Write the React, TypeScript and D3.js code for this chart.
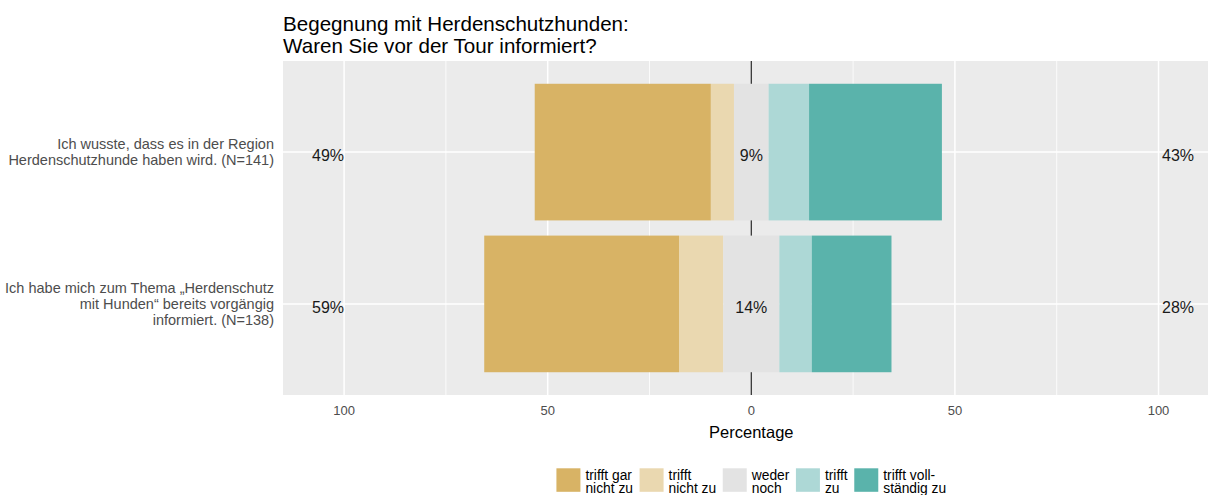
import React, { useEffect, useRef } from "react";
import * as d3 from "d3";

const titleLines = ["Begegnung mit Herdenschutzhunden:", "Waren Sie vor der Tour informiert?"];
const itemLines = [
  ["Ich wusste, dass es in der Region", "Herdenschutzhunde haben wird. (N=141)"],
  ["Ich habe mich zum Thema „Herdenschutz", "mit Hunden“ bereits vorgängig", "informiert. (N=138)"],
];
const levelLines = [
  ["trifft gar", "nicht zu"],
  ["trifft", "nicht zu"],
  ["weder", "noch"],
  ["trifft", "zu"],
  ["trifft voll-", "ständig zu"],
];
const levelColors = ["#D8B365", "#EAD8B0", "#E3E3E3", "#ADD8D6", "#5AB3AB"];
// percentages per level (gar nicht, nicht, weder, zu, vollständig)
const item1Values = [43.26, 5.67, 8.51, 9.93, 32.62];
const item2Values = [47.83, 10.87, 13.77, 7.97, 19.57];
const majorTicks = [-100, -50, 0, 50, 100];
const minorTicks = [-75, -25, 25, 75];
const xLabel = "Percentage";

const W = 1208, H = 495;
const FONT = "Liberation Sans, Arial, sans-serif";

export default function App() {
  const ref = useRef<SVGSVGElement>(null);
  useEffect(() => {
    const svg = d3.select(ref.current);
    svg.selectAll("*").remove();
    const values = [item1Values, item2Values];
    const panel = { left: 283, right: 1219.6, top: 61, bottom: 395 };
    const x = d3.scaleLinear().domain([-115, 115]).range([panel.left, panel.right]);
    const y = d3.scaleLinear().domain([0.4, 2.6]).range([panel.top, panel.bottom]);
    const barH = y(1.45) - y(0.55);

    svg.append("rect").attr("x", panel.left).attr("y", panel.top)
      .attr("width", panel.right - panel.left).attr("height", panel.bottom - panel.top).attr("fill", "#EBEBEB");
    const g = svg.append("g");
    minorTicks.forEach(t => g.append("line").attr("x1", x(t)).attr("x2", x(t)).attr("y1", panel.top).attr("y2", panel.bottom)
      .attr("stroke", "#fff").attr("stroke-width", 0.8));
    majorTicks.forEach(t => g.append("line").attr("x1", x(t)).attr("x2", x(t)).attr("y1", panel.top).attr("y2", panel.bottom)
      .attr("stroke", "#fff").attr("stroke-width", 1.5));
    [1, 2].forEach(c => g.append("line").attr("x1", panel.left).attr("x2", panel.right).attr("y1", y(c)).attr("y2", y(c))
      .attr("stroke", "#fff").attr("stroke-width", 1.5));
    g.append("line").attr("x1", x(0)).attr("x2", x(0)).attr("y1", panel.top).attr("y2", panel.bottom)
      .attr("stroke", "#333").attr("stroke-width", 1.3);

    values.forEach((vals, i) => {
      const c = i + 1;
      const half = vals[2] / 2;
      const segs: [number, number, number][] = [];
      let start = -half - vals[1] - vals[0];
      for (let k = 0; k < 5; k++) {
        segs.push([start, start + vals[k], k]);
        start += vals[k];
      }
      segs.forEach(([a, b, k]) => {
        g.append("rect").attr("x", x(a)).attr("width", x(b) - x(a))
          .attr("y", y(c) - barH / 2).attr("height", barH).attr("fill", levelColors[k]);
      });
      const low = Math.round(vals[0] + vals[1]);
      const neu = Math.round(vals[2]);
      const high = Math.round(vals[3] + vals[4]);
      const ty = y(c) + 9;
      const tstyle = (t: any) => t.attr("font-family", FONT).attr("font-size", 16).attr("fill", "#1a1a1a");
      tstyle(g.append("text").attr("x", x(-100)).attr("y", ty).attr("text-anchor", "end").text(low + "%"));
      tstyle(g.append("text").attr("x", x(0)).attr("y", ty).attr("text-anchor", "middle").text(neu + "%"));
      tstyle(g.append("text").attr("x", x(100) + 3.5).attr("y", ty).attr("text-anchor", "start").text(high + "%"));

      const lines = itemLines[i];
      const lh = 16;
      lines.forEach((ln, j) => {
        svg.append("text").attr("x", 274).attr("y", y(c) + 5 + (j - (lines.length - 1) / 2) * lh)
          .attr("text-anchor", "end").attr("font-family", FONT).attr("font-size", 14.5).attr("fill", "#4D4D4D").text(ln);
      });
    });

    majorTicks.forEach(t => svg.append("text").attr("x", x(t)).attr("y", 415).attr("text-anchor", "middle")
      .attr("font-family", FONT).attr("font-size", 13).attr("fill", "#4D4D4D").text(String(Math.abs(t))));
    svg.append("text").attr("x", x(0)).attr("y", 438).attr("text-anchor", "middle")
      .attr("font-family", FONT).attr("font-size", 16.5).attr("fill", "#000").text(xLabel);

    titleLines.forEach((t, j) => svg.append("text").attr("x", 283).attr("y", 30.5 + j * 22.5)
      .attr("font-family", FONT).attr("font-size", 20.6).attr("fill", "#000").text(t));

    // legend
    const lg = svg.append("g");
    const keyW = 24, keyH = 23.5, gap = 5, itemGap = 6.6;
    let cx = 0;
    levelLines.forEach((lines, k) => {
      const it = lg.append("g").attr("transform", `translate(${cx},0)`);
      it.append("rect").attr("x", 0).attr("y", 468.3).attr("width", keyW).attr("height", keyH).attr("fill", levelColors[k]);
      let maxW = 0;
      lines.forEach((ln, j) => {
        const t = it.append("text").attr("x", keyW + gap).attr("y", 480 + j * 12.8)
          .attr("font-family", FONT).attr("font-size", 13.8).attr("fill", "#000").text(ln);
        maxW = Math.max(maxW, (t.node() as SVGTextElement).getComputedTextLength());
      });
      cx += keyW + gap + maxW + itemGap;
    });
    const total = cx - itemGap;
    lg.attr("transform", `translate(${x(0) - total / 2},0)`);
  }, []);
  return (
    <svg ref={ref} width={W} height={H} style={{ position: "absolute", left: 0, top: 0, background: "#fff" }} />
  );
}
